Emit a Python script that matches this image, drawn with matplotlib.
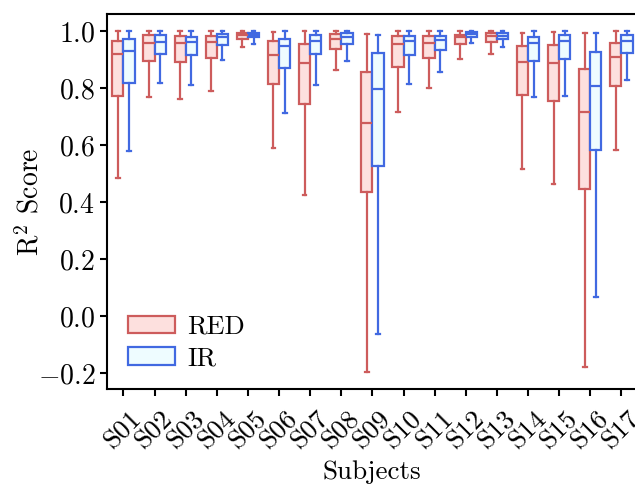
import numpy as np
import matplotlib
matplotlib.use('Agg')
import matplotlib.pyplot as plt
from matplotlib.patches import Patch

plt.rcParams['font.family'] = 'cmr10'
plt.rcParams['mathtext.fontset'] = 'cm'
plt.rcParams['axes.formatter.use_mathtext'] = True

subjects = ['S%02d' % i for i in range(1, 18)]

# box stats: whislo, q1, median, q3, whishi
red_lo = [0.484, 0.769, 0.764, 0.790, 0.947, 0.592, 0.426, 0.864, -0.195, 0.716, 0.800, 0.904, 0.920, 0.516, 0.464, -0.179, 0.584]
red_q1 = [0.773, 0.897, 0.893, 0.905, 0.973, 0.815, 0.744, 0.938, 0.435, 0.875, 0.907, 0.955, 0.964, 0.776, 0.757, 0.448, 0.809]
red_med = [0.921, 0.958, 0.958, 0.962, 0.986, 0.916, 0.888, 0.974, 0.679, 0.955, 0.958, 0.979, 0.984, 0.893, 0.890, 0.718, 0.910]
red_q3 = [0.967, 0.988, 0.985, 0.985, 0.995, 0.965, 0.957, 0.990, 0.857, 0.984, 0.984, 0.989, 0.994, 0.948, 0.952, 0.867, 0.960]
red_hi = [1.000, 1.000, 1.000, 1.000, 1.000, 0.999, 1.000, 1.000, 0.992, 1.000, 1.000, 1.000, 1.000, 0.996, 0.998, 0.993, 1.000]

ir_lo = [0.582, 0.819, 0.813, 0.899, 0.955, 0.712, 0.812, 0.895, -0.062, 0.816, 0.856, 0.958, 0.947, 0.769, 0.775, 0.067, 0.828]
ir_q1 = [0.818, 0.920, 0.917, 0.953, 0.980, 0.871, 0.919, 0.955, 0.528, 0.917, 0.934, 0.981, 0.975, 0.897, 0.903, 0.584, 0.923]
ir_med = [0.932, 0.964, 0.962, 0.979, 0.988, 0.948, 0.967, 0.981, 0.798, 0.966, 0.969, 0.990, 0.985, 0.960, 0.966, 0.810, 0.967]
ir_q3 = [0.973, 0.986, 0.981, 0.990, 0.995, 0.975, 0.988, 0.993, 0.923, 0.985, 0.985, 0.997, 0.993, 0.981, 0.986, 0.929, 0.986]
ir_hi = [1.000, 1.000, 1.000, 1.000, 1.000, 1.000, 1.000, 1.000, 0.989, 1.000, 1.000, 1.000, 1.000, 1.000, 1.000, 0.995, 1.000]

red_edge, red_face = '#cd5c5c', '#fde0de'
ir_edge, ir_face = '#4169e1', '#eefcff'


def make_stats(lo, q1, med, q3, hi):
    return [dict(whislo=a, q1=b, med=c, q3=d, whishi=e, fliers=[])
            for a, b, c, d, e in zip(lo, q1, med, q3, hi)]


fig = plt.figure(figsize=(6.35, 4.87), dpi=100)
ax = fig.add_axes([0.1685, 0.2012, 0.8346, 0.770])

x = np.arange(len(subjects))
for stats, off, ec, fc in [(make_stats(red_lo, red_q1, red_med, red_q3, red_hi), -0.18, red_edge, red_face),
                           (make_stats(ir_lo, ir_q1, ir_med, ir_q3, ir_hi), 0.18, ir_edge, ir_face)]:
    ln = dict(color=ec, linewidth=1.6)
    ax.bxp(stats, positions=x + off, widths=0.36, patch_artist=True,
           showfliers=False, capwidths=0.12,
           boxprops=dict(facecolor=fc, edgecolor=ec, linewidth=1.6),
           medianprops=ln, whiskerprops=ln, capprops=ln)

ax.set_xlim(-0.53, 16.5)
ax.set_ylim(-0.255, 1.061)
ax.set_xticks(x)
ax.set_xticklabels(subjects, rotation=45)
ax.set_yticks([-0.2, 0.0, 0.2, 0.4, 0.6, 0.8, 1.0])
ax.tick_params(length=5, width=1.5)
ax.tick_params(axis='y', labelsize=20)
ax.tick_params(axis='x', labelsize=19.5, pad=8)
for s in ax.spines.values():
    s.set_linewidth(1.5)
ax.set_xlabel('Subjects', fontsize=19.5, labelpad=5)
ax.set_ylabel(r'R$^2$ Score', fontsize=20, labelpad=-5)

handles = [Patch(facecolor=red_face, edgecolor=red_edge, linewidth=1.6, label='RED'),
           Patch(facecolor=ir_face, edgecolor=ir_edge, linewidth=1.6, label='IR')]
ax.legend(handles=handles, loc='lower left', bbox_to_anchor=(0.039, 0.05),
          frameon=False, fontsize=19, borderpad=0, borderaxespad=0,
          handlelength=1.8, handleheight=0.65, handletextpad=0.45,
          labelspacing=0.3)

fig.savefig('out.png', dpi=100)
